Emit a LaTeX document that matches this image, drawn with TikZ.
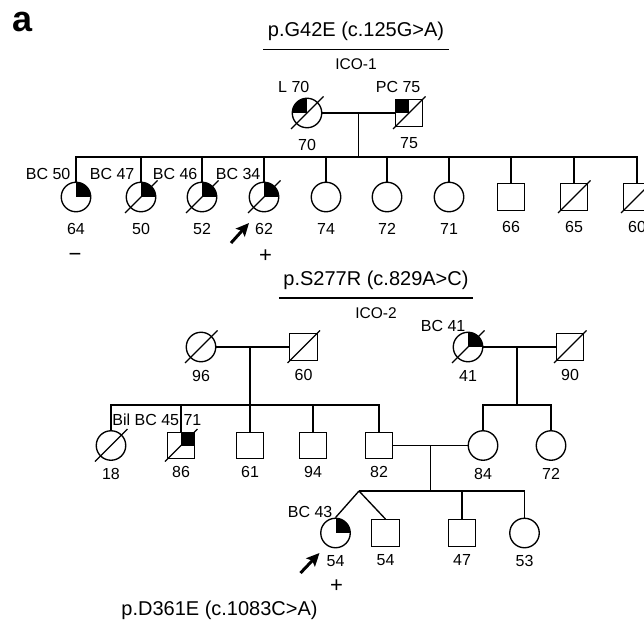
\documentclass[tikz,border=0pt]{standalone}
\usepackage{fontspec}
\setmainfont{Liberation Sans}
\usetikzlibrary{arrows.meta,positioning,calc}

\begin{document}
\begin{tikzpicture}[
    x=1pt,y=-1pt,
    line width=1.35pt,
    font=\fontsize{16}{19}\selectfont,
    label distance=6.5pt,
    female/.style={draw,circle,minimum size=29.5pt,inner sep=0pt},
    male/.style={draw,rectangle,minimum width=27.5pt,minimum height=26.5pt,inner sep=0pt},
    qur/.style={path picture={\fill (path picture bounding box.center) rectangle (path picture bounding box.north east);}},
    qul/.style={path picture={\fill (path picture bounding box.center) rectangle (path picture bounding box.north west);}},
    age/.style={inner sep=0pt},
    note/.style={inner sep=0pt,anchor=base east},
    title/.style={font=\fontsize{20}{24}\selectfont,inner xsep=4pt,inner ysep=8pt},
    family/.style={font=\fontsize{15.5}{18}\selectfont,inner sep=0pt},
    sign/.style={font=\fontsize{22}{26}\selectfont,inner sep=0pt,anchor=base},
    slash/.style={line width=1.2pt},
    proband/.style={-{Stealth[length=13pt,width=12pt,inset=2.5pt]},line width=3pt}
  ]
  \useasboundingbox (0,0) rectangle (644,620);
  \clip (0,0) rectangle (644,620);

  \node[font=\fontsize{36}{40}\selectfont\bfseries,inner sep=0pt] (panel) at (23,22) {a};

  % ICO-1
  \node[title] (t1) at (356,31.5) {p.G42E (c.125G>A)};
  \draw (t1.south west) -- (t1.south east);
  \node[family,below=9pt of t1] (ico1) {ICO-1};

  \begin{scope}[label distance=10pt]
    \node[female,qul,label={[age]below:70}] (gm1) at (307,113) {};
    \node[male,qul,label={[age]below:75}] (gf1) at (409,113) {};
    \node[note] (lgm1) at ([shift={(3,-20)}]gm1.center) {L 70};
    \node[note] (lgf1) at ([shift={(12,-20)}]gf1.center) {PC 75};
    \draw (gm1) -- (gf1);
    \coordinate (m1) at ($(gm1.east)!0.5!(gf1.west)$);
    \coordinate (s1) at ($(m1)+(0,44)$);
    \draw (m1) -- (s1);

    \node[female,qur,label={[age]below:64}] (c1) at (76,197) {};
    \node[female,qur,label={[age]below:50}] (c2) at (141,197) {};
    \node[female,qur,label={[age]below:52}] (c3) at (202,197) {};
    \node[female,qur,label={[age]below:62}] (c4) at (264,197) {};
    \node[female,label={[age]below:74}] (c5) at (326,197) {};
    \node[female,label={[age]below:72}] (c6) at (387,197) {};
    \node[female,label={[age]below:71}] (c7) at (449,197) {};
    \node[male,label={[age]below:66}] (c8) at (511,197) {};
    \node[male,label={[age]below:65}] (c9) at (574,197) {};
    \node[male,label={[age]below:60}] (c10) at (637,197) {};
    \foreach \k in {1,...,10} \draw (s1) -| (c\k);

    \node[note] (lc1) at ([shift={(-5,-17)}]c1.center) {BC 50};
    \node[note] (lc2) at ([shift={(-6,-17)}]c2.center) {BC 47};
    \node[note] (lc3) at ([shift={(-4,-17)}]c3.center) {BC 46};
    \node[note] (lc4) at ([shift={(-3,-17)}]c4.center) {BC 34};

    \node[sign] (neg1) at ([shift={(-1,64)}]c1.center) {−};
    \node[sign] (pos1) at ([shift={(1.5,65)}]c4.center) {+};
    \coordinate (a1) at ([shift={(-33,46)}]c4.center);
    \coordinate (b1) at ([shift={(-15,26)}]c4.center);
    \draw[proband] (a1) -- (b1);
  \end{scope}

  % ICO-2
  \node[title] (t2) at (376,280) {p.S277R (c.829A>C)};
  \draw (t2.south west) -- (t2.south east);
  \node[family,below=9pt of t2] (ico2) {ICO-2};

  \begin{scope}[label distance=7.5pt]
    \node[female,label={[age]below:96}] (gm2) at (201,347) {};
    \node[male,label={[age]below:60}] (gf2) at (303.5,347) {};
    \node[female,qur,label={[age]below:41}] (gm3) at (468,347) {};
    \node[male,label={[age]below:90}] (gf3) at (570,347) {};
  \end{scope}
  \node[note] (lgm3) at ([shift={(-2,-16)}]gm3.center) {BC 41};
  \draw (gm2) -- (gf2);
  \draw (gm3) -- (gf3);
  \coordinate (m2) at (250,347);
  \coordinate (s2) at (250,405);
  \coordinate (m3) at (517,347);
  \coordinate (s3) at (517,405);
  \draw (m2) -- (s2);
  \draw (m3) -- (s3);

  \node[female,label={[age]below:18}] (u18) at (111,445.5) {};
  \node[male,qur,label={[age]below:86}] (u86) at (181,445.5) {};
  \node[male,label={[age]below:61}] (u61) at (250,445.5) {};
  \node[male,label={[age]below:94}] (u94) at (313,445.5) {};
  \node[male,label={[age]below:82}] (dad) at (379,445.5) {};
  \node[female,label={[age]below:84}] (mom) at (483,445.5) {};
  \node[female,label={[age]below:72}] (aunt) at (551,445.5) {};
  \node[note] (lu86) at ([shift={(21,-20)}]u86.center) {Bil BC 45,71};
  \foreach \k in {u18,u86,u61,u94,dad} \draw (s2) -| (\k);
  \draw (s3) -| (mom);
  \draw (s3) -| (aunt);

  \draw (dad) -- (mom);
  \coordinate (m4) at ($(dad.east)!0.5!(mom.west)$);
  \coordinate (s4) at ($(m4)+(0,45.5)$);
  \coordinate (tw) at (359,491);
  \draw (m4) -- (s4);

  \node[female,qur,label={[age]below:54}] (pro) at (335.5,533) {};
  \node[male,label={[age]below:54}] (twin) at (385.5,533) {};
  \node[male,label={[age]below:47}] (s47) at (462,533) {};
  \node[female,label={[age]below:53}] (d53) at (524.5,533) {};
  \node[note] (lpro) at ([shift={(-2.5,-15.5)}]pro.center) {BC 43};
  \draw (s4) -- (tw);
  \draw (tw) -- (pro.north);
  \draw (tw) -- (twin.north);
  \draw (s4) -| (s47);
  \draw (s4) -| (d53);

  \node[sign] (pos2) at ([shift={(1,59)}]pro.center) {+};
  \coordinate (a2) at ([shift={(-35,40)}]pro.center);
  \coordinate (b2) at ([shift={(-16,20)}]pro.center);
  \draw[proband] (a2) -- (b2);

  % deceased
  \foreach \n in {gm1,gf1,c2,c3,c4,c9,c10,gm2,gf2,gm3,gf3,u18,u86}
    \draw[slash] ([shift={(-16,16)}]\n.center) -- ([shift={(16.5,-16.5)}]\n.center);

  \node[title] (t3) at (219.5,610) {p.D361E (c.1083C>A)};
\end{tikzpicture}
\end{document}
